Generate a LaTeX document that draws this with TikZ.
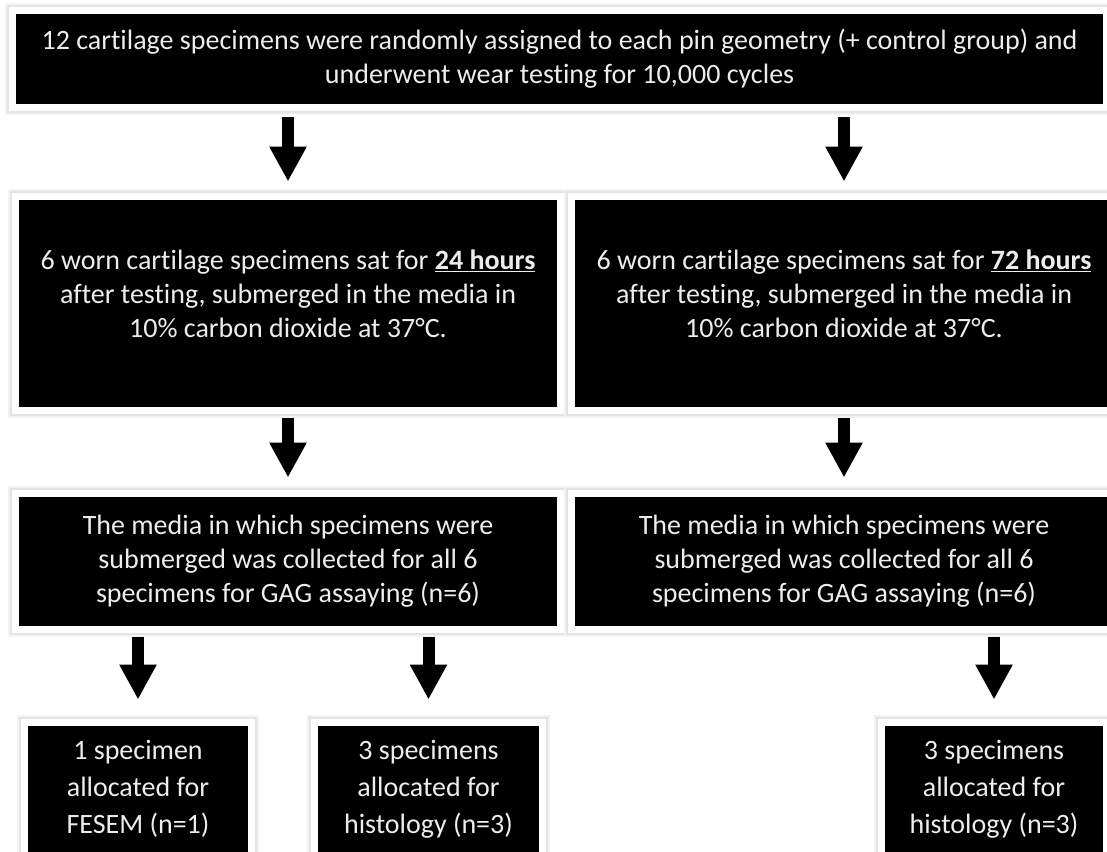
\documentclass[tikz,border=0pt]{standalone}
\usepackage{fontspec}
\setmainfont{Carlito}[Ligatures=NoCommon]
\usetikzlibrary{arrows.meta}

\begin{document}
\begin{tikzpicture}[x=1pt, y=-1pt,
        blackbox/.style={draw=white, line width=7pt, fill=black, text=white!93!black,
            align=center, inner sep=0pt, font=\fontsize{28}{34}\selectfont,
            preaction={draw=black!5, line width=15pt},
            preaction={draw=black!11, line width=11pt}},
        blockarrow/.style={line width=12pt, -{Triangle[width=35pt, length=35pt]}}]
            \useasboundingbox (0,0) rectangle (1107,851);

            \node (top) at (559.5,59) [blackbox, minimum width=1094pt, minimum height=97pt]
                {12 cartilage specimens were randomly assigned to each pin geometry (+ control group) and\\
                 underwent wear testing for 10,000 cycles};
            \node (mid24) at (288,303.5) [blackbox, minimum width=545pt, minimum height=214pt]
                {6 worn cartilage specimens sat for \underline{\textbf{24 hours}}\\
                 after testing, submerged in the media in\\
                 10\% carbon dioxide at 37°C.\rule[-19pt]{0pt}{0pt}};
            \node (mid72) at (844,303.5) [blackbox, minimum width=545pt, minimum height=214pt]
                {6 worn cartilage specimens sat for \underline{\textbf{72 hours}}\\
                 after testing, submerged in the media in\\
                 10\% carbon dioxide at 37°C.\rule[-19pt]{0pt}{0pt}};
            \node (gag24) at (288,561.5) [blackbox, minimum width=545pt, minimum height=136pt]
                {The media in which specimens were\\
                 submerged was collected for all 6\\
                 specimens for GAG assaying (n=6)};
            \node (gag72) at (844,561.5) [blackbox, minimum width=545pt, minimum height=136pt]
                {The media in which specimens were\\
                 submerged was collected for all 6\\
                 specimens for GAG assaying (n=6)};
            \node (fesem) at (138,789) [blackbox, minimum width=227pt, minimum height=133pt,
                font=\fontsize{28}{37}\selectfont]
                {1 specimen\\allocated for\\FESEM (n=1)};
            \node (histo24) at (428.5,789) [blackbox, minimum width=228pt, minimum height=133pt,
                font=\fontsize{28}{37}\selectfont]
                {3 specimens\\allocated for\\histology (n=3)};
            \node (histo72) at (994,789) [blackbox, minimum width=225pt, minimum height=133pt,
                font=\fontsize{28}{37}\selectfont]
                {3 specimens\\allocated for\\histology (n=3)};

            \draw[blockarrow, shorten <=5.5pt, shorten >=11.5pt] (top.south -| mid24.north) -- (mid24.north);
            \draw[blockarrow, shorten <=5.5pt, shorten >=11.5pt] (top.south -| mid72.north) -- (mid72.north);
            \draw[blockarrow, shorten <=3.5pt, shorten >=12.5pt] (mid24.south) -- (gag24.north);
            \draw[blockarrow, shorten <=3.5pt, shorten >=12.5pt] (mid72.south) -- (gag72.north);
            \draw[blockarrow, shorten <=3.5pt, shorten >=19.5pt] (gag24.south -| fesem.north) -- (fesem.north);
            \draw[blockarrow, shorten <=3.5pt, shorten >=19.5pt] (gag24.south -| histo24.north) -- (histo24.north);
            \draw[blockarrow, shorten <=3.5pt, shorten >=19.5pt] (gag72.south -| histo72.north) -- (histo72.north);
        \end{tikzpicture}
\end{document}
